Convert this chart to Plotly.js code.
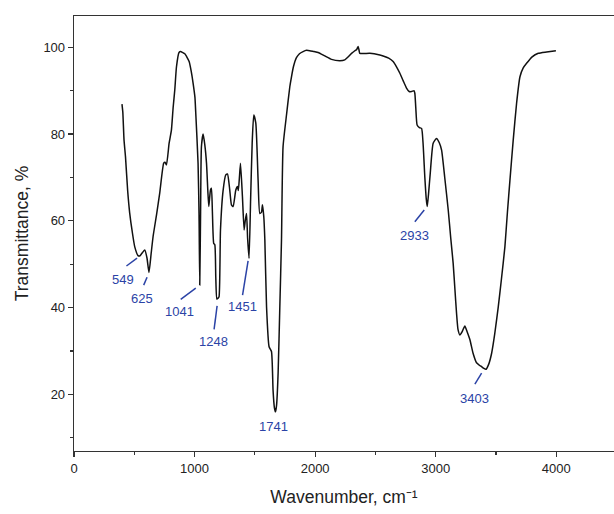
<!DOCTYPE html>
<html>
<head>
<meta charset="utf-8">
<script src="https://cdn.plot.ly/plotly-3.0.1.min.js"></script>
<style>html,body{margin:0;padding:0;background:#fff}#chart{width:614px;height:514px}</style>
</head>
<body>
<div id="chart"></div>
<script>
const wavenumber = [398,405,415,427,445,462,483,504,531,545,560,587,605,622,640,656,685,711,744,755,767,789,808,822,836,850,871,885,900,919,935,955,972,988,1003,1010,1029,1037,1043,1050,1057,1071,1085,1099,1110,1118,1132,1140,1148,1159,1168,1176,1185,1195,1203,1215,1237,1259,1273,1292,1306,1320,1342,1356,1363,1372,1381,1397,1411,1420,1431,1440,1452,1465,1478,1491,1508,1527,1541,1555,1563,1574,1583,1597,1618,1638,1651,1662,1671,1680,1693,1707,1721,1734,1763,1790,1804,1820,1845,1870,1900,1929,1956,1990,2025,2080,2136,2205,2246,2275,2302,2330,2345,2357,2365,2371,2454,2537,2564,2610,2647,2675,2703,2730,2758,2780,2800,2820,2827,2835,2846,2865,2883,2895,2910,2922,2930,2940,2955,2979,3007,3030,3049,3075,3104,3125,3145,3160,3173,3185,3201,3220,3242,3260,3284,3310,3339,3360,3381,3400,3417,3440,3464,3490,3519,3545,3574,3595,3616,3643,3671,3699,3725,3754,3800,3851,3920,3997];
const transmittance = [86.9,85,78.6,74.8,67,61.8,57.5,54,52,51.9,52.4,53.3,51.5,48.1,52.5,56.4,61.5,66.4,73.3,73.5,72.9,77.9,80.9,86,90.2,95.5,98.8,99,98.8,98.5,97.8,96.7,94.5,91.7,88.5,84.8,73.3,61.7,45.2,62,77.1,80,77.5,73.3,67,63.3,67.1,67.5,62,54.8,54.5,47,42,42.2,42.5,57.9,67.1,70.6,70.8,67.1,63.7,63.3,67.1,67.9,67,70,73.3,65.6,57.9,60,61.7,56,51.4,65,78,84.4,82.5,69.4,61.7,62,63.7,61,55.6,40.2,31,29.9,21,17,16,17.5,24.9,40,55.6,77.1,84.5,90.9,93.2,95.5,97.6,98.5,99,99.3,99.2,99,98.8,98,97.2,96.9,97.1,97.8,98.6,99.2,99.5,100.2,99.2,98.6,98.6,98.2,98,97.5,96.7,95.5,94,92.3,90.6,89.8,89.8,90,89.4,86,82.1,81.5,81.3,78,70,65,63.3,66,71,77.9,79,78,76.3,70,62.5,56,50.2,44,38.7,35,33.7,34.5,35.8,34.5,32.6,29.5,27.3,26.8,26.4,26,25.8,27,29.5,34,40.2,46.5,54,62,69.4,78.6,87.1,93.2,95.2,96.3,97.8,98.6,98.9,99.2];

// Peak labels: text, label anchor (wavenumber, %T), leader line start/end
const peakLabels = ["549","625","1041","1248","1451","1741","2933","3403"];
const labelX = [407,568,877,1154,1398,1657,2827,3325];
const labelY = [46.6,42.2,39.1,32.3,40.2,12.7,56.6,19.1];
const leadX0 = [435,578,885,1162,1398,null,2827,3325];
const leadY0 = [49.6,45.2,41.9,35.0,42.9,null,59.8,22.4];
const leadX1 = [523,606,1010,1187,1444,null,2905,3381];
const leadY1 = [51.4,47.0,44.5,40.4,50.8,null,62.5,24.9];

const blue = '#2b43a6';
const font = '"Liberation Sans", Arial, sans-serif';

const annotations = peakLabels.map((t,i)=>({
  x: labelX[i], y: labelY[i], xref:'x', yref:'y', text: t, showarrow:false,
  font:{family:font, size:13, color:blue}, xanchor:'center', yanchor:'middle'
}));
const shapes = [];
peakLabels.forEach((t,i)=>{
  if (leadX0[i]===null) return;
  shapes.push({type:'line', xref:'x', yref:'y', x0:leadX0[i], y0:leadY0[i], x1:leadX1[i], y1:leadY1[i],
    line:{color:blue, width:1.5}});
});

const trace = {x: wavenumber, y: transmittance, type:'scatter', mode:'lines',
  line:{color:'#111', width:1.5, shape:'spline', smoothing:0.5}, hoverinfo:'skip'};

const layout = {
  width:614, height:514,
  margin:{l:74, r:0, t:16, b:63},
  paper_bgcolor:'#fff', plot_bgcolor:'#fff',
  showlegend:false,
  font:{family:font, color:'#222'},
  xaxis:{range:[0,4479], tickmode:'linear', tick0:0, dtick:1000,
    ticks:'outside', ticklen:5, tickwidth:1.2, tickcolor:'#333',
    minor:{dtick:500, ticks:'outside', ticklen:3, tickwidth:1.2, tickcolor:'#333'},
    showline:true, linecolor:'#333', linewidth:1.3, mirror:true,
    showgrid:false, zeroline:false,
    tickfont:{family:font, size:13, color:'#222'},
    title:{text:'Wavenumber, cm\u207B\u00B9', font:{family:font, size:17.5, color:'#222'}, standoff:15}},
  yaxis:{range:[6.98,107.2], tickmode:'linear', tick0:0, dtick:20,
    ticks:'outside', ticklen:5, tickwidth:1.2, tickcolor:'#333',
    minor:{dtick:10, ticks:'outside', ticklen:3, tickwidth:1.2, tickcolor:'#333'},
    showline:true, linecolor:'#333', linewidth:1.3, mirror:false,
    showgrid:false, zeroline:false,
    tickfont:{family:font, size:13, color:'#222'},
    title:{text:'Transmittance, %', font:{family:font, size:17.5, color:'#222'}, standoff:10}},
  annotations: annotations,
  shapes: shapes
};

Plotly.newPlot('chart', [trace], layout, {staticPlot:true, displayModeBar:false});
</script>
</body>
</html>
